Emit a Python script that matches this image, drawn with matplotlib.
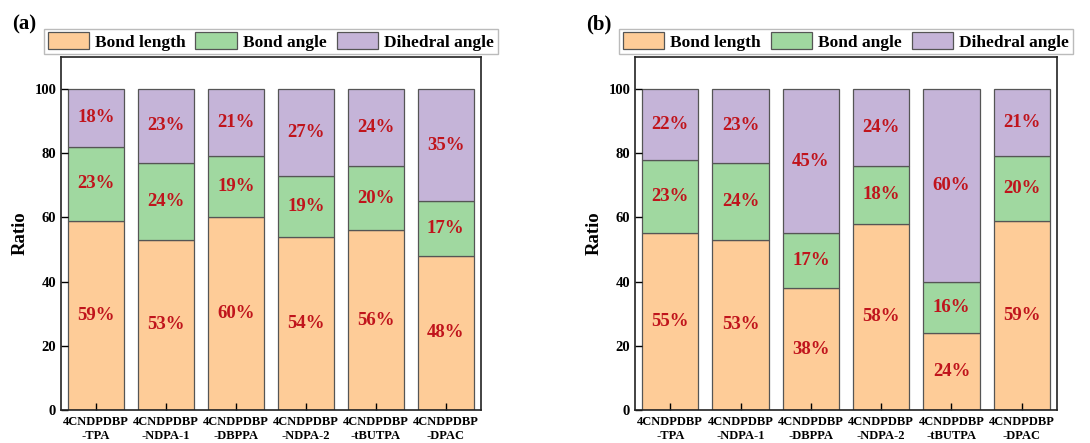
import numpy as np
import matplotlib
matplotlib.use("Agg")
import matplotlib.pyplot as plt

plt.rcParams['font.family'] = ['Liberation Serif', 'DejaVu Serif']
plt.rcParams['font.weight'] = 'bold'

molecules = ['4CNDPDBP\n-TPA', '4CNDPDBP\n-NDPA-1', '4CNDPDBP\n-DBPPA',
             '4CNDPDBP\n-NDPA-2', '4CNDPDBP\n-tBUTPA', '4CNDPDBP\n-DPAC']
components = ['Bond length', 'Bond angle', 'Dihedral angle']

# (a) contributions in percent
bond_length_a = [59, 53, 60, 54, 56, 48]
bond_angle_a = [23, 24, 19, 19, 20, 17]
dihedral_a = [18, 23, 21, 27, 24, 35]

# (b) contributions in percent
bond_length_b = [55, 53, 38, 58, 24, 59]
bond_angle_b = [23, 24, 17, 18, 16, 20]
dihedral_b = [22, 23, 45, 24, 60, 21]

colors = ['#FECC98', '#A0D8A0', '#C5B4D8']
label_color = '#C0141C'


def stacked(ax, series, tag):
    x = np.arange(len(molecules))
    bottom = np.zeros(len(molecules))
    for vals, name, c in zip(series, components, colors):
        vals = np.array(vals, dtype=float)
        ax.bar(x, vals, 0.8, bottom=bottom, color=c, edgecolor='#555555',
               linewidth=0.9, label=name)
        for xi, b, v in zip(x, bottom, vals):
            ax.text(xi, b + v / 2, f'{int(v)}%', ha='center', va='center',
                    color=label_color, fontsize=13.5, fontweight='bold')
        bottom += vals
    ax.set_xlim(-0.5, 5.5)
    ax.set_ylim(0, 110)
    ax.set_yticks(range(0, 101, 20))
    ax.set_xticks(x)
    ax.set_xticklabels(molecules, fontsize=9, fontweight='bold',
                       linespacing=1.3)
    ax.tick_params(axis='y', direction='in', labelsize=10.5, length=5, width=1)
    ax.tick_params(axis='x', direction='in', length=5, width=1, pad=4)
    for s in ax.spines.values():
        s.set_linewidth(1.2)
        s.set_color('#222222')
    ax.set_ylabel('Ratio', fontsize=13.5, fontweight='bold', labelpad=4)
    ax.legend(loc='lower center', bbox_to_anchor=(0.5, 1.008), ncol=3,
              frameon=True, fancybox=False, edgecolor='#AAAAAA',
              fontsize=12.5, handlelength=2.4, handleheight=1.15,
              handletextpad=0.35, columnspacing=0.55, borderpad=0.2,
              borderaxespad=0)
    ax.text(-0.117, 1.12, tag, transform=ax.transAxes, fontsize=15,
            fontweight='bold', ha='left', va='top')


fig = plt.figure(figsize=(10.9, 4.43), dpi=100)
ax1 = fig.add_axes([0.056, 0.0745, 0.385, 0.797])
ax2 = fig.add_axes([0.5826, 0.0745, 0.3871, 0.797])

stacked(ax1, [bond_length_a, bond_angle_a, dihedral_a], '(a)')
stacked(ax2, [bond_length_b, bond_angle_b, dihedral_b], '(b)')

fig.savefig('out.png', dpi=100)
